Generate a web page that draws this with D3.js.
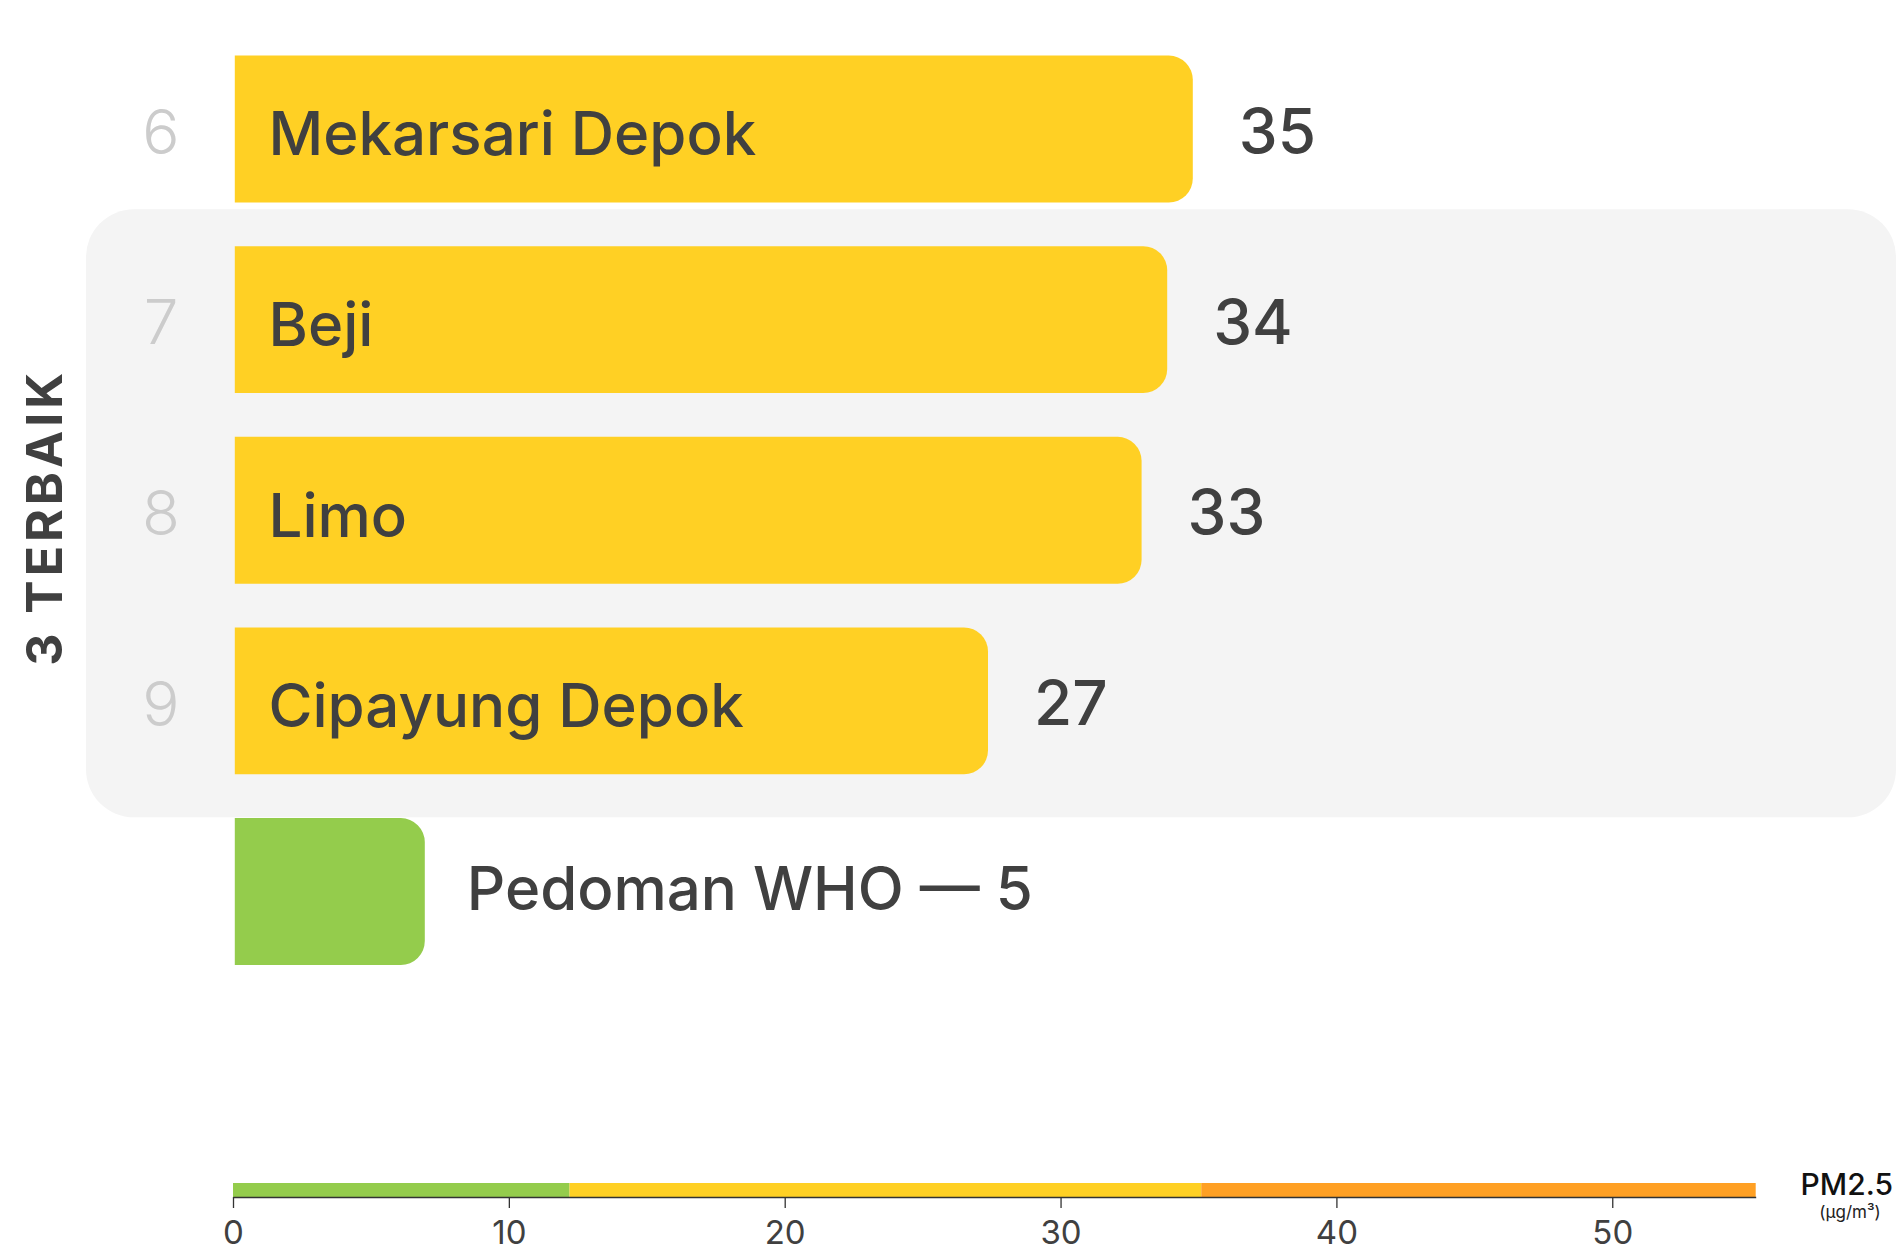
<!DOCTYPE html>
<html>
<head>
<meta charset="utf-8">
<script src="https://cdn.jsdelivr.net/npm/d3@7"></script>
<style>
  html, body { margin: 0; padding: 0; background: #fff; }
  svg { display: block; font-family: Inter, "Noto Sans", sans-serif; }
</style>
</head>
<body>
<svg id="chart" width="1896" height="1254"></svg>
<script>
// Stations, ranked by annual PM2.5 (µg/m³)
const ranks = [6, 7, 8, 9];
const stations = ["Mekarsari Depok", "Beji", "Limo", "Cipayung Depok"];
const pm25 = [35, 34, 33, 27];

// WHO guideline row
const whoLabel = "Pedoman WHO — 5";
const whoValue = 5;

// Legend bands along the bottom axis
const bandStops = [0, 12.2, 35.1, 55.2];
const bandColors = ["#94cc4c", "#ffd024", "#ffa024"];
const axisTicks = [0, 10, 20, 30, 40, 50];

const groupTitle = "3 TERBAIK";
const unitTitle = "PM2.5";
const unitSub = "(µg/m³)";

const W = 1896, H = 1254;
const svg = d3.select("#chart");
const textColor = "#404040";
const barFill = "#ffd024";

// Rows: four stations plus the WHO row
const rowKeys = stations.concat([whoLabel]);
const y = d3.scaleBand()
  .domain(rowKeys)
  .range([55.6, 965])
  .paddingInner(0.2294)
  .paddingOuter(0);

const barLeft = 234.8;
const barX = d3.scaleLinear().domain([0, 55]).range([296.8, 296.8 + 25.6 * 55]);

// Bar with square left end and rounded right end
function barPath(x0, x1, y0, h, r) {
  return `M${x0},${y0}H${x1 - r}A${r},${r} 0 0 1 ${x1},${y0 + r}` +
         `V${y0 + h - r}A${r},${r} 0 0 1 ${x1 - r},${y0 + h}H${x0}Z`;
}

// Highlight panel behind the three best stations
const panelTop = y("Beji") - 37;
const panelBottom = y("Cipayung Depok") + y.bandwidth() + 43;
svg.append("rect")
  .attr("x", 86).attr("y", panelTop)
  .attr("width", W - 86).attr("height", panelBottom - panelTop)
  .attr("rx", 48).attr("ry", 48)
  .attr("fill", "#f4f4f4");

svg.append("text")
  .attr("transform", `translate(62,${(panelTop + panelBottom) / 2 + 4}) rotate(-90)`)
  .attr("text-anchor", "middle")
  .attr("font-size", 50)
  .attr("font-weight", 700)
  .attr("letter-spacing", 4)
  .attr("fill", textColor)
  .text(groupTitle);

const rows = stations.map((s, i) => ({ name: s, rank: ranks[i], value: pm25[i] }));

const g = svg.append("g");
const row = g.selectAll("g.row").data(rows).join("g").attr("class", "row");

row.append("path")
  .attr("d", d => barPath(barLeft, barX(d.value), y(d.name), y.bandwidth(), 24))
  .attr("fill", barFill);

row.append("text")
  .attr("x", 161)
  .attr("y", d => y(d.name) + y.bandwidth() / 2)
  .attr("dy", "0.4em")
  .attr("text-anchor", "middle")
  .attr("font-size", 62)
  .attr("font-weight", 300)
  .attr("fill", "#cccccc")
  .text(d => d.rank);

row.append("text")
  .attr("x", 268.5)
  .attr("y", d => y(d.name) + y.bandwidth() / 2)
  .attr("dy", "0.44em")
  .attr("font-size", 60)
  .attr("font-weight", 500)
  .attr("fill", textColor)
  .text(d => d.name);

row.append("text")
  .attr("x", d => barX(d.value) + 46)
  .attr("y", d => y(d.name) + y.bandwidth() / 2)
  .attr("dy", "0.39em")
  .attr("font-size", 62)
  .attr("font-weight", 500)
  .attr("fill", textColor)
  .text(d => d.value);

// WHO guideline bar
g.append("path")
  .attr("d", barPath(barLeft, barX(whoValue), y(whoLabel), y.bandwidth(), 24))
  .attr("fill", bandColors[0]);
g.append("text")
  .attr("x", barX(whoValue) + 42)
  .attr("y", y(whoLabel) + y.bandwidth() / 2)
  .attr("dy", "0.3em")
  .attr("font-size", 60)
  .attr("font-weight", 500)
  .attr("fill", textColor)
  .text(whoLabel);

// Colour-band legend and value axis
const lx = d3.scaleLinear().domain([0, 55.2]).range([233, 1755.7]);
const bandY = 1183, bandH = 14;
svg.append("g").selectAll("rect")
  .data(bandColors)
  .join("rect")
  .attr("x", (c, i) => lx(bandStops[i]))
  .attr("width", (c, i) => lx(bandStops[i + 1]) - lx(bandStops[i]))
  .attr("y", bandY).attr("height", bandH)
  .attr("fill", c => c);

const axis = svg.append("g")
  .attr("transform", `translate(0,${bandY + bandH})`)
  .call(d3.axisBottom(lx).tickValues(axisTicks).tickSize(11).tickSizeOuter(0).tickPadding(13));
axis.select(".domain").attr("stroke", "#333").attr("stroke-width", 1.6);
axis.selectAll(".tick line").attr("stroke", "#333").attr("stroke-width", 1.3);
axis.selectAll(".tick text")
  .attr("font-family", "Inter, sans-serif")
  .attr("font-size", 33)
  .attr("fill", textColor);

svg.append("text")
  .attr("x", 1893).attr("y", 1195)
  .attr("text-anchor", "end")
  .attr("font-size", 30)
  .attr("font-weight", 500)
  .attr("fill", "#111")
  .text(unitTitle);
svg.append("text")
  .attr("x", 1850).attr("y", 1218)
  .attr("text-anchor", "middle")
  .attr("font-size", 17)
  .attr("fill", "#222")
  .text(unitSub);
</script>
</body>
</html>
